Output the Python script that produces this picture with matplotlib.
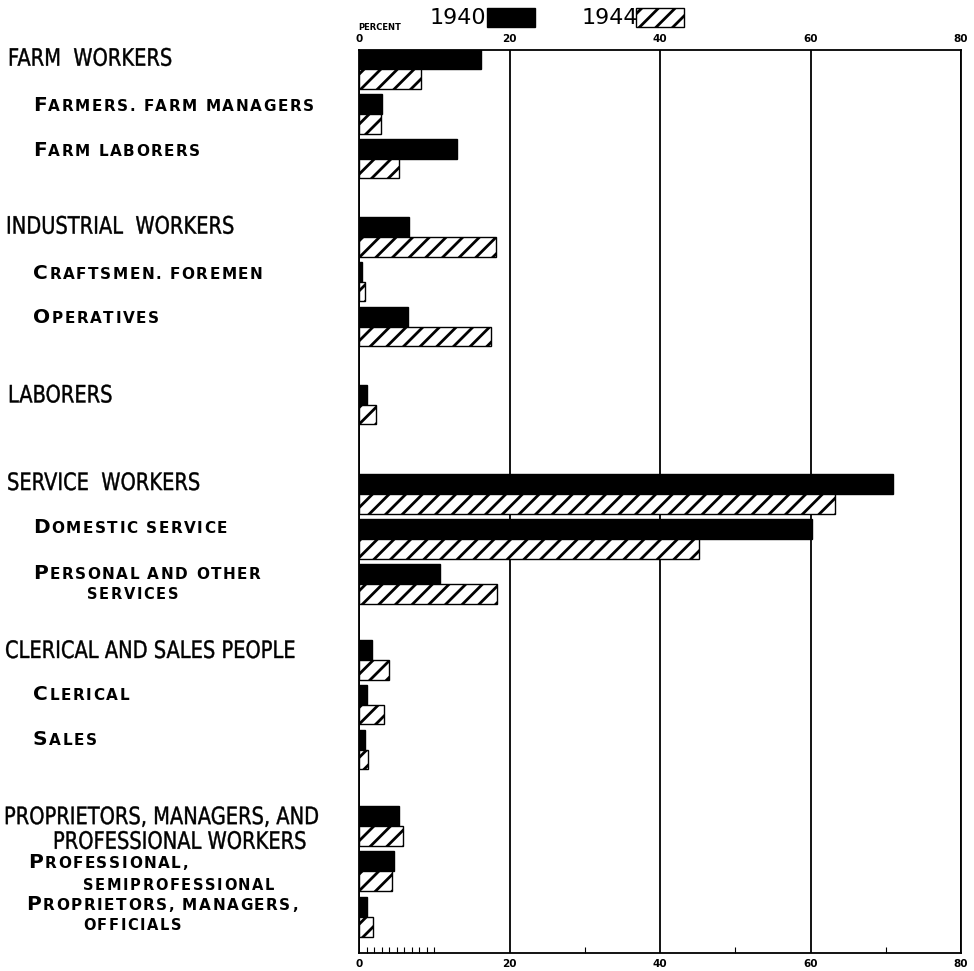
import matplotlib
matplotlib.use('Agg')
from matplotlib import pyplot as plt
from matplotlib import transforms
from matplotlib.patches import Rectangle, PathPatch
from matplotlib.textpath import TextPath
from matplotlib.font_manager import FontProperties
import numpy as np

# Occupation groups (main groups and their sub groups)
groups = ['FARM  WORKERS', 'FARMERS. FARM MANAGERS', 'FARM LABORERS',
          'INDUSTRIAL  WORKERS', 'CRAFTSMEN. FOREMEN', 'OPERATIVES',
          'LABORERS',
          'SERVICE  WORKERS', 'DOMESTIC SERVICE', 'PERSONAL AND OTHER\nSERVICES',
          'CLERICAL AND SALES PEOPLE', 'CLERICAL', 'SALES',
          'PROPRIETORS, MANAGERS, AND\nPROFESSIONAL WORKERS',
          'PROFESSIONAL,\nSEMIPROFESSIONAL', 'PROPRIETORS, MANAGERS,\nOFFICIALS']
is_sub = [False, True, True, False, True, True, False, False, True, True,
          False, True, True, False, True, True]

# Percent of employed women in each group
share_1940 = [16.2, 3.0, 13.0, 6.6, 0.4, 6.5, 1.1, 71.0, 60.2, 10.8,
              1.7, 1.1, 0.8, 5.3, 4.7, 1.1]
share_1944 = [8.2, 2.9, 5.3, 18.2, 0.8, 17.6, 2.3, 63.3, 45.2, 18.4,
              4.0, 3.3, 1.2, 5.9, 4.4, 1.9]
years = ['1940', '1944']
ticks = [0, 20, 40, 60, 80]

# row slots, with gaps between the main groups
rows = np.array([0, 1, 2, 3.74, 4.74, 5.74, 7.48, 9.47, 10.47, 11.47,
                 13.16, 14.16, 15.16, 16.86, 17.86, 18.89])
# label placement: x in pixels, baseline shift in rows, then same for line 2
label_pos = [(8, -0.07), (33, -0.07), (33, -0.07),
             (6, -0.07), (33, -0.07), (33, -0.07),
             (8, -0.05),
             (7, -0.09), (33, -0.13), (33, -0.11, 87, 0.33),
             (5, -0.04), (33, -0.11), (33, -0.11),
             (4, -0.04, 53, 0.51), (28, -0.07, 83, 0.42), (26, -0.16, 83, 0.29)]

plt.rcParams['hatch.linewidth'] = 2.0

W, H = 974, 971
fig = plt.figure(figsize=(W / 100, H / 100), dpi=100)
ax = fig.add_axes([359 / W, 1 - 953 / H, 602 / W, 903 / H])

ax.barh(rows - 0.22, share_1940, height=0.44, color='black', edgecolor='black', linewidth=1)
ax.barh(rows + 0.22, share_1944, height=0.44, color='white', edgecolor='black',
        hatch='//', linewidth=1)

ax.set_xlim(0, 80)
ax.set_ylim(19.69, -0.42)
ax.set_yticks([])
ax.set_axisbelow(True)
ax.grid(axis='x', color='black', linewidth=1.3)
for s in ax.spines.values():
    s.set_linewidth(1.3)

ax.set_xticks(ticks, labels=[str(t) for t in ticks], fontweight='bold', fontsize=7.5)
ax.tick_params(which='major', length=0, top=True, labeltop=True, pad=4)
ax.set_xticks(list(range(1, 11)) + [30, 50, 70], minor=True)
ax.tick_params(which='minor', direction='in', length=4, width=0.8, top=False)

fig.text(358 / W, 1 - 28 / H, 'PERCENT', fontsize=6, fontweight='bold', va='center')

# legend drawn by hand: year text, then the sample box
fig.text(430 / W, 1 - 18 / H, years[0], fontsize=16, va='center')
fig.patches.append(Rectangle((487 / W, 1 - 27 / H), 48 / W, 19 / H, transform=fig.transFigure,
                             facecolor='black', edgecolor='black', figure=fig))
fig.text(582 / W, 1 - 18 / H, years[1], fontsize=16, va='center')
fig.patches.append(Rectangle((636 / W, 1 - 27 / H), 48 / W, 19 / H, transform=fig.transFigure,
                             facecolor='white', edgecolor='black', hatch='//', figure=fig))

# group labels
label_tf = transforms.blended_transform_factory(fig.transFigure, ax.transData)
renderer = fig.canvas.get_renderer()
font = FontProperties(family='DejaVu Sans')


def narrow_text(x, y, line, size=24, squeeze=0.81):
    # lettering is condensed: draw the glyph outlines squeezed sideways
    yd = ax.transData.transform((0, y))[1]
    tp = TextPath((0, 0), line, size=size, prop=font)
    tr = transforms.Affine2D().scale(squeeze, 1).translate(x, yd)
    fig.add_artist(PathPatch(tp, transform=tr, facecolor='black', edgecolor='black', lw=0.3))


def small_caps(x, y, line, big=14.5, small=11.0, track=1.6):
    # first letter big, rest small capitals, drawn one by one with wide spacing
    for i, ch in enumerate(line):
        size = big if (i == 0 and big) else small
        if ch == ' ':
            x += 0.32 * size / 0.72 + track
            continue
        t = ax.text(x / W, y, ch, transform=label_tf, fontsize=size, fontweight='bold',
                    va='baseline', ha='left', family='DejaVu Sans')
        x += t.get_window_extent(renderer).width + track


for name, sub, r, p in zip(groups, is_sub, rows, label_pos):
    lines = name.split('\n')
    if sub:
        small_caps(p[0], r + p[1], lines[0])
        if len(lines) > 1:
            small_caps(p[2], r + p[3], lines[1], big=None, small=10.5)
    else:
        narrow_text(p[0], r + p[1], lines[0])
        if len(lines) > 1:
            narrow_text(p[2], r + p[3], lines[1])

fig.savefig('out.png', dpi=100)
